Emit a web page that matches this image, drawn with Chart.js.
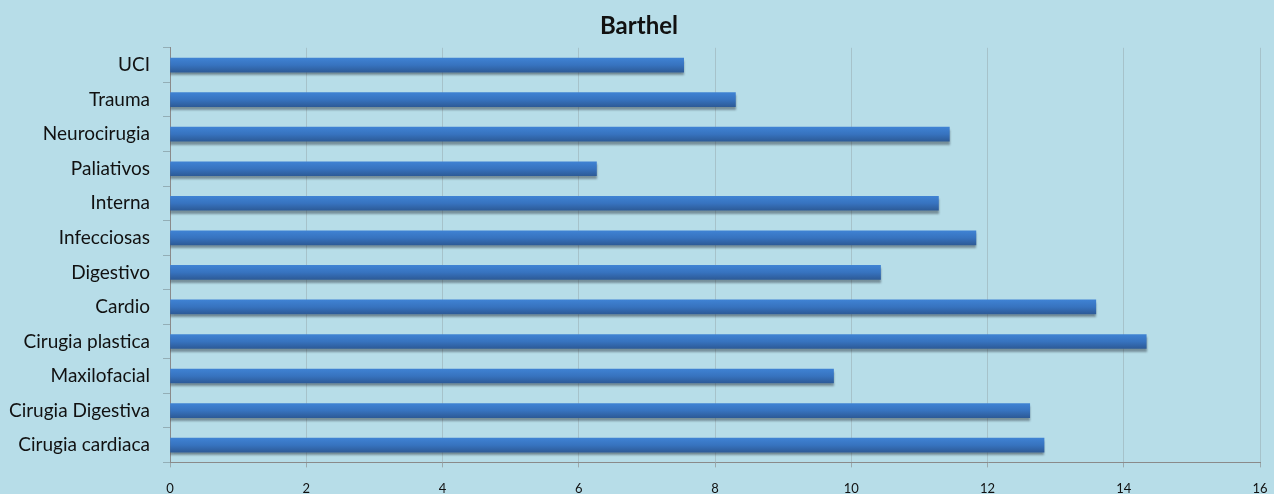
<!DOCTYPE html>
<html>
<head>
<meta charset="utf-8">
<script src="https://cdn.jsdelivr.net/npm/chart.js@4/dist/chart.umd.min.js"></script>
<style>
  html, body { margin: 0; padding: 0; background: #b7dde8; overflow: hidden; }
  #wrap { position: absolute; left: 0; top: 0; width: 1274px; height: 511px; }
</style>
</head>
<body>
<div id="wrap"><canvas id="c"></canvas></div>
<script>
const titleText = 'Barthel';
const categories = ['UCI', 'Trauma', 'Neurocirugia', 'Paliativos', 'Interna', 'Infecciosas', 'Digestivo', 'Cardio', 'Cirugia plastica', 'Maxilofacial', 'Cirugia Digestiva', 'Cirugia cardiaca'];
const values = [7.54, 8.30, 11.44, 6.26, 11.28, 11.83, 10.43, 13.59, 14.33, 9.74, 12.62, 12.83];
const xMin = 0, xMax = 16, xStep = 2;

const BAR_H = 14;

const shadowPlugin = {
  id: 'barShadow',
  beforeDatasetsDraw(chart) {
    const ctx = chart.ctx;
    ctx.save();
    ctx.shadowColor = 'rgba(40,50,60,0.45)';
    ctx.shadowOffsetX = 0;
    ctx.shadowOffsetY = 3;
    ctx.shadowBlur = 2;
  },
  afterDatasetsDraw(chart) {
    chart.ctx.restore();
  }
};

function barFill(context) {
  const chart = context.chart;
  const yScale = chart.scales && chart.scales.y;
  if (!yScale || context.dataIndex === undefined) return '#3670b8';
  const yc = yScale.getPixelForValue(context.dataIndex);
  if (!isFinite(yc)) return '#3670b8';
  const g = chart.ctx.createLinearGradient(0, yc - BAR_H / 2, 0, yc + BAR_H / 2);
  g.addColorStop(0, '#3f82d3');
  g.addColorStop(0.5, '#3773bf');
  g.addColorStop(1, '#2d5b98');
  return g;
}

const chart = new Chart(document.getElementById('c'), {
  type: 'bar',
  data: {
    labels: categories,
    datasets: [{
      data: values,
      backgroundColor: barFill,
      borderWidth: 0,
      barThickness: BAR_H
    }]
  },
  options: {
    indexAxis: 'y',
    responsive: true,
    maintainAspectRatio: false,
    animation: false,
    layout: { padding: { left: 4, right: 0, top: 12, bottom: 0 } },
    plugins: {
      legend: { display: false },
      tooltip: { enabled: false },
      title: {
        display: true,
        text: titleText,
        color: '#111',
        font: { family: 'Lato', size: 24, weight: 'bold' },
        padding: { top: 0, bottom: 7 }
      }
    },
    scales: {
      x: {
        min: xMin,
        max: xMax,
        afterFit(scale) { scale.paddingLeft = 0; scale.paddingRight = 14; },
        ticks: {
          stepSize: xStep,
          color: '#111',
          font: { family: 'Lato', size: 13 },
          padding: 14,
          maxRotation: 0
        },
        grid: {
          color: '#a6c2ca',
          lineWidth: 1,
          tickLength: 5,
          tickColor: '#9aa9ad'
        },
        border: { color: '#8a8a8a', width: 1 }
      },
      y: {
        afterFit(scale) { scale.width = 166; },
        ticks: {
          color: '#111',
          font: { family: 'Lato', size: 19 },
          padding: 13
        },
        grid: {
          drawOnChartArea: false,
          tickLength: 7,
          tickColor: '#93aeb6'
        },
        border: { color: '#8a8a8a', width: 1 }
      }
    }
  },
  plugins: [shadowPlugin]
});
chart.update();
</script>
</body>
</html>
